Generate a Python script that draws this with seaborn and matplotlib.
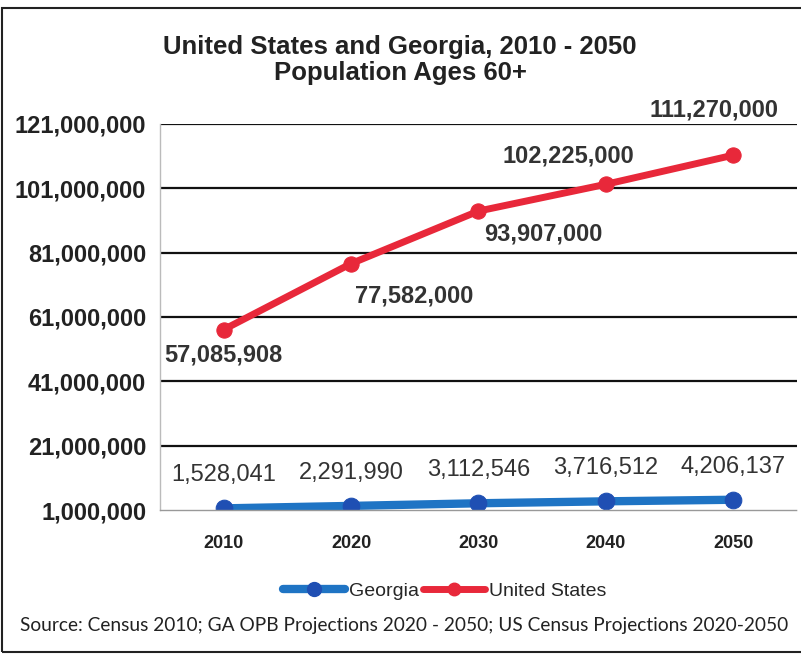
import matplotlib
matplotlib.use("Agg")
import matplotlib.pyplot as plt
import seaborn as sns
import pandas as pd
from matplotlib.patches import Rectangle
from matplotlib.lines import Line2D

years = [2010, 2020, 2030, 2040, 2050]
georgia = [1528041, 2291990, 3112546, 3716512, 4206137]
united_states = [57085908, 77582000, 93907000, 102225000, 111270000]
y_ticks = [1000000, 21000000, 41000000, 61000000, 81000000, 101000000, 121000000]

title = "United States and Georgia, 2010 - 2050\nPopulation Ages 60+"
source = "Source: Census 2010; GA OPB Projections 2020 - 2050; US Census Projections 2020-2050"

df = pd.DataFrame({
    "year": years * 2,
    "pop": georgia + united_states,
    "series": ["Georgia"] * len(years) + ["United States"] * len(years),
})

sns.set_theme(style="white")
plt.rcParams["font.family"] = ["Liberation Sans", "DejaVu Sans"]

fig = plt.figure(figsize=(8.01, 6.59), dpi=100)
ax = fig.add_axes([0.1998, 0.226, 0.795, 0.586])

blue = "#1f74c4"
blue_mk = "#1f4fb3"
red = "#e8283a"

sns.lineplot(data=df[df.series == "Georgia"], x="year", y="pop", ax=ax,
             color=blue, linewidth=6, marker="o", markersize=12,
             markerfacecolor=blue_mk, markeredgecolor=blue_mk, legend=False)
sns.lineplot(data=df[df.series == "United States"], x="year", y="pop", ax=ax,
             color=red, linewidth=5, marker="o", markersize=11,
             markerfacecolor=red, markeredgecolor=red, legend=False)

ax.set_xlim(2005, 2055)
ax.set_ylim(y_ticks[0], y_ticks[-1])
ax.set_yticks(y_ticks)
ax.set_yticklabels([f"{v:,}" for v in y_ticks], fontsize=17, fontweight="bold", color="#222222")
ax.set_xticks(years)
ax.set_xticklabels([str(y) for y in years], fontsize=13, fontweight="bold", color="#222222")
ax.tick_params(axis="x", pad=18, length=0)
ax.tick_params(axis="y", pad=10, length=0)
ax.set_xlabel("")
ax.set_ylabel("")

for v in y_ticks[1:]:
    ax.axhline(v, color="#111111", linewidth=1.6, zorder=0)
for s in ["top", "right"]:
    ax.spines[s].set_visible(False)
ax.spines["left"].set_color("#bbbbbb")
ax.spines["left"].set_linewidth(1)
ax.spines["bottom"].set_color("#999999")
ax.spines["bottom"].set_linestyle((0, (2, 1)))
ax.spines["bottom"].set_linewidth(1)

# value labels for the United States series
us_offsets = [(0, -10, "center", "top"), (3, -15, "left", "top"), (4, -8, "left", "top"),
              (-27, 12, "center", "bottom"), (-14, 24, "center", "bottom")]
for x, v, (dx, dy, ha, va) in zip(years, united_states, us_offsets):
    ax.annotate(f"{v:,}", (x, v), xytext=(dx, dy), textcoords="offset points",
                ha=ha, va=va, fontsize=17, fontweight="bold", color="#333333")

# value labels for the Georgia series
for x, v in zip(years, georgia):
    ax.annotate(f"{v:,}", (x, v), xytext=(0, 16), textcoords="offset points",
                ha="center", va="bottom", fontsize=17, color="#333333")

fig.text(0.4994, 0.909, title, ha="center", va="center", fontsize=18.5,
         fontweight="bold", color="#222222", linespacing=1.1)

handles = [Line2D([], [], color=blue, linewidth=6, marker="o", markersize=10,
                  markerfacecolor=blue_mk, markeredgecolor=blue_mk),
           Line2D([], [], color=red, linewidth=5, marker="o", markersize=9,
                  markerfacecolor=red, markeredgecolor=red)]
fig.legend(handles, ["Georgia", "United States"], loc="center", bbox_to_anchor=(0.555, 0.103),
           ncol=2, frameon=False, fontsize=14, handlelength=3.2, handletextpad=0.2,
           columnspacing=0.2)

fig.text(0.505, 0.051, source, ha="center", va="center", fontsize=13.8,
         color="#222222", family=["Lato", "DejaVu Sans"])

fig.patches.append(Rectangle((0.003, 0.01), 1.2, 0.978, transform=fig.transFigure,
                             fill=False, edgecolor="#222222", linewidth=1.5))

fig.savefig("out.png", dpi=100, facecolor="white")
